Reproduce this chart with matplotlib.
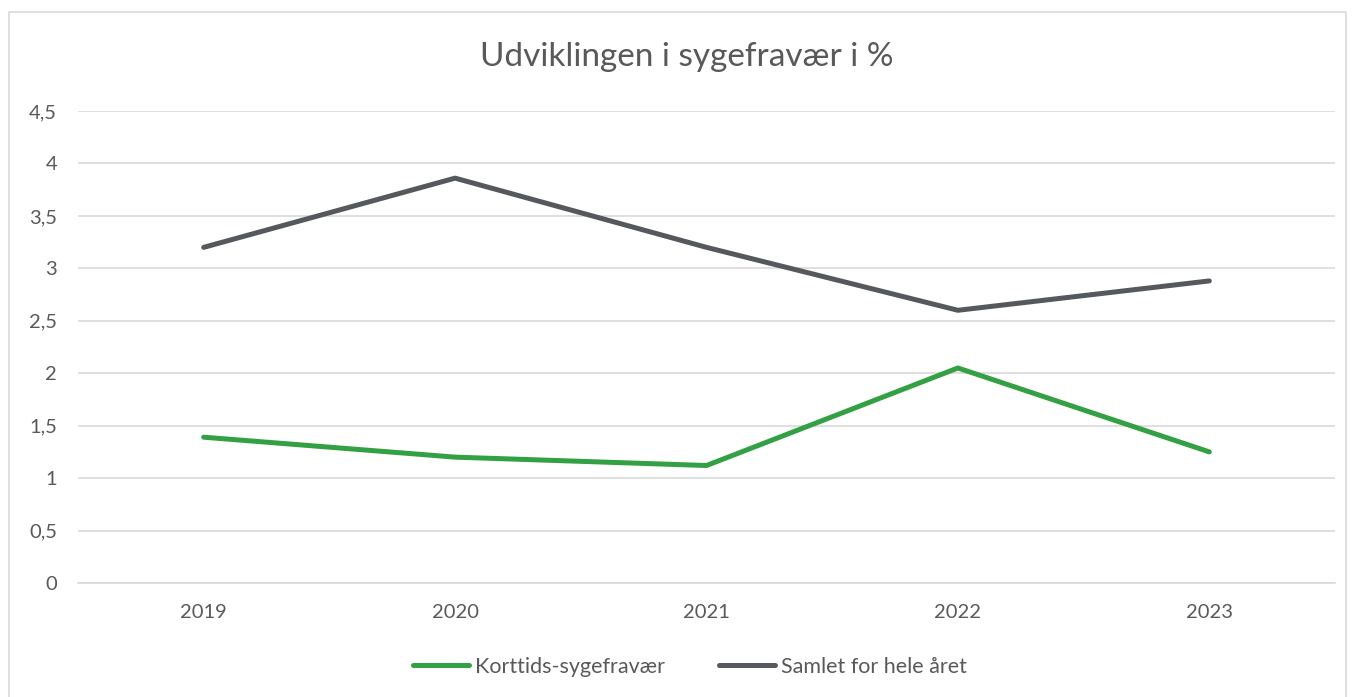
import matplotlib.pyplot as plt
from matplotlib.lines import Line2D
from matplotlib.ticker import FuncFormatter

years = ["2019", "2020", "2021", "2022", "2023"]
korttids = [1.39, 1.20, 1.12, 2.05, 1.25]
samlet = [3.20, 3.86, 3.20, 2.60, 2.88]
yticks = [0, 0.5, 1, 1.5, 2, 2.5, 3, 3.5, 4, 4.5]

plt.rcParams['font.family'] = ['Lato', 'DejaVu Sans']
W, H = 1352, 697
fig = plt.figure(figsize=(W / 100, H / 100), dpi=100)
ax = fig.add_axes([78 / W, 1 - 583 / H, (1335 - 78) / W, (583 - 111) / H])

x = list(range(len(years)))
green = '#33A043'
gray = '#55585C'
ax.plot(x, korttids, color=green, lw=3.6, solid_capstyle='round', solid_joinstyle='round', label='Korttids-sygefravær')
ax.plot(x, samlet, color=gray, lw=3.6, solid_capstyle='round', solid_joinstyle='round', label='Samlet for hele året')

ax.set_xlim(-0.5, len(years) - 0.5)
ax.set_ylim(0, 4.5)
ax.set_yticks(yticks)
ax.yaxis.set_major_formatter(FuncFormatter(lambda v, p: f"{v:g}".replace('.', ',')))
ax.set_xticks(x)
ax.set_xticklabels(years)
ax.grid(axis='y', color='#D9D9D9', lw=1.2)
ax.set_axisbelow(True)
for s in ['left', 'right', 'top']:
    ax.spines[s].set_visible(False)
ax.spines['bottom'].set_color('#D9D9D9')
ax.spines['bottom'].set_linewidth(1.2)
ax.tick_params(length=0, labelsize=14.5, labelcolor='#595959')
ax.tick_params(axis='y', pad=15)
ax.tick_params(axis='x', pad=15)

fig.text(687 / W, 1 - 57 / H, 'Udviklingen i sygefravær i %', ha='center', va='center',
         fontsize=24, color='#595959')

leg = fig.legend(handles=ax.get_lines(), loc='center', bbox_to_anchor=(690 / W, 1 - 667 / H),
                 ncol=2, frameon=False, fontsize=15.5, handlelength=2.6, handletextpad=0.3,
                 columnspacing=2.5)
for t in leg.get_texts():
    t.set_color('#595959')

# chart border
fig.add_artist(Line2D([9 / W, 9 / W, 1346 / W, 1346 / W], [0, 1 - 12 / H, 1 - 12 / H, 0],
                      transform=fig.transFigure, color='#D9D9D9', lw=1.2))

fig.savefig('out.png', dpi=100, facecolor='white')
